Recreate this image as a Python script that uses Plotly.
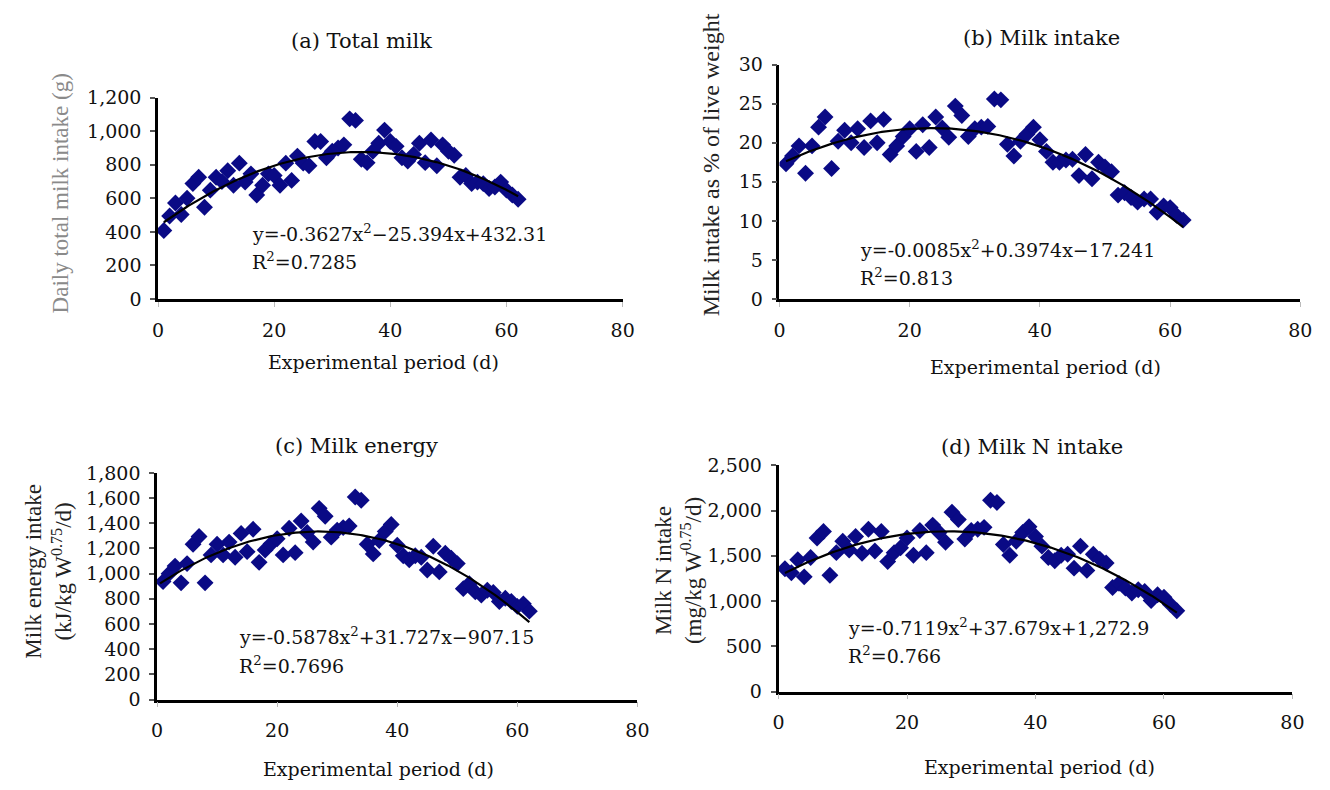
import numpy as np
import plotly.graph_objects as go

# ---------------- data ----------------
days = list(range(1, 63))

total_milk = [408, 495, 572, 504, 601, 688, 726, 547, 649, 726,
              700, 765, 678, 810, 697, 746, 620, 678, 746, 736,
              678, 810, 707, 852, 810, 794, 939, 939, 842, 881,
              900, 919, 1074, 1065, 833, 813, 881, 929, 1007, 939,
              910, 842, 823, 862, 929, 813, 948, 794, 919, 881,
              857, 726, 736, 688, 697, 688, 659, 668, 697, 649,
              620, 595]

milk_pct = [17.3, 18.3, 19.6, 16.1, 19.6, 22.0, 23.3, 16.7, 20.2, 21.6,
            20.0, 21.8, 19.4, 22.8, 20.0, 23.0, 18.5, 19.6, 20.8, 21.8,
            18.9, 22.3, 19.4, 23.3, 21.9, 20.7, 24.7, 23.5, 20.8, 21.8,
            22.0, 22.1, 25.6, 25.5, 19.8, 18.3, 20.2, 21.1, 22.0, 20.4,
            18.9, 17.5, 17.5, 17.8, 17.9, 15.8, 18.5, 15.4, 17.5, 16.9,
            16.3, 13.3, 13.6, 13.0, 12.4, 12.8, 12.8, 11.1, 11.9, 11.7,
            10.7, 10.1]

milk_energy = [937, 1000, 1060, 927, 1080, 1234, 1295, 927, 1149, 1234,
               1149, 1251, 1131, 1320, 1175, 1353, 1090, 1188, 1238, 1277,
               1149, 1361, 1167, 1418, 1328, 1251, 1519, 1456, 1290, 1346,
               1366, 1379, 1609, 1583, 1234, 1157, 1264, 1336, 1391, 1226,
               1142, 1111, 1142, 1131, 1029, 1218, 1014, 1162, 1123, 1080,
               881, 920, 855, 830, 868, 851, 779, 805, 779, 740,
               760, 702]

milk_n = [1357, 1314, 1457, 1268, 1482, 1696, 1768, 1286, 1535, 1661,
          1564, 1714, 1529, 1793, 1554, 1768, 1436, 1535, 1589, 1696,
          1507, 1779, 1535, 1839, 1757, 1650, 1982, 1900, 1686, 1779,
          1793, 1814, 2114, 2089, 1625, 1507, 1661, 1757, 1821, 1714,
          1607, 1482, 1446, 1507, 1518, 1364, 1607, 1339, 1518, 1464,
          1421, 1150, 1196, 1143, 1089, 1125, 1107, 1007, 1071, 1043,
          964, 893]

# quadratic trend coefficients (a2, a1, a0)
coef_a = [-0.3627, 25.394, 432.31]
coef_b = [-0.0085, 0.3974, 17.241]
coef_c = [-0.5878, 31.727, 907.15]
coef_d = [-0.7119, 37.679, 1272.9]

titles = ["(a) Total milk", "(b) Milk intake", "(c) Milk energy", "(d) Milk N intake"]
eq_texts = [
    ("y=-0.3627x<sup>2</sup>\u221225.394x+432.31", "R<sup>2</sup>=0.7285"),
    ("y=-0.0085x<sup>2</sup>+0.3974x\u221217.241", "R<sup>2</sup>=0.813"),
    ("y=-0.5878x<sup>2</sup>+31.727x\u2212907.15", "R<sup>2</sup>=0.7696"),
    ("y=-0.7119x<sup>2</sup>+37.679x+1,272.9", "R<sup>2</sup>=0.766"),
]
ytitles = [
    "Daily total milk intake (g)",
    "Milk intake as % of live weight",
    "Milk energy intake<br>(kJ/kg W<sup>0.75</sup>/d)",
    "Milk N intake<br>(mg/kg W<sup>0.75</sup>/d)",
]
xtitle = "Experimental period (d)"

# ---------------- layout geometry (pixels, page coordinates) ----------------
W, H = 1330, 790
OFF = 8                       # default page body margin offsets the figure
HFONT = "DejaVu Serif"        # horizontal texts (wide serif look)
VFONT = "Liberation Serif"    # rotated axis titles
NAVY = "#0a0a85"


def px(xp):
    return (xp - OFF) / W


def py(yp):
    return 1 - (yp - OFF) / H


panels = [
    dict(series=total_milk, coef=coef_a, x0=154, x1=625, ytop=89, ybot=296, ymax=1200, dtick=200,
         trend=(1, 62), title_xy=(360, 31), eq_xy=(247, 228, 257), xt_xy=(383, 361),
         yt_xy=(55, 187), yt_color="#8a8a8a", yt_size=23),
    dict(series=milk_pct, coef=coef_b, x0=784, x1=1312, ytop=55, ybot=296, ymax=30, dtick=5,
         trend=(1, 62), title_xy=(1050, 28), eq_xy=(864, 245, 273), xt_xy=(1054, 366),
         yt_xy=(714, 158), yt_color="#222222", yt_size=24),
    dict(series=milk_energy, coef=coef_c, x0=153, x1=640, ytop=475, ybot=708, ymax=1800, dtick=200,
         trend=(0.5, 62), title_xy=(355, 447), eq_xy=(234, 643, 672), xt_xy=(378, 779),
         yt_xy=(43, 576), yt_color="#222222", yt_size=23),
    dict(series=milk_n, coef=coef_d, x0=783, x1=1304, ytop=467, ybot=700, ymax=2500, dtick=500,
         trend=(1, 62), title_xy=(1040, 448), eq_xy=(851, 633, 662), xt_xy=(1048, 777),
         yt_xy=(681, 575), yt_color="#222222", yt_size=23),
]

fig = go.Figure()
annotations = []

for i, p in enumerate(panels):
    n = i + 1
    xa = "x" if n == 1 else f"x{n}"
    ya = "y" if n == 1 else f"y{n}"
    fig.add_trace(go.Scatter(
        x=days[:len(p["series"])], y=p["series"], mode="markers",
        marker=dict(symbol="diamond", size=13, color=NAVY, line=dict(width=0)),
        xaxis=xa, yaxis=ya, showlegend=False, hoverinfo="x+y"))
    a2, a1, a0 = p["coef"]
    tx = np.linspace(p["trend"][0], p["trend"][1], 200)
    ty = a2 * tx ** 2 + a1 * tx + a0
    fig.add_trace(go.Scatter(
        x=tx, y=ty, mode="lines", line=dict(color="black", width=2.2),
        xaxis=xa, yaxis=ya, showlegend=False, hoverinfo="skip"))

    xkey = "xaxis" if n == 1 else f"xaxis{n}"
    ykey = "yaxis" if n == 1 else f"yaxis{n}"
    fig.update_layout(**{
        xkey: dict(domain=[px(p["x0"]), px(p["x1"])], anchor=ya, range=[0, 80],
                   dtick=20, tick0=0, showgrid=False, zeroline=False,
                   showline=True, linecolor="black", linewidth=2.5,
                   ticks="outside", ticklen=5, tickcolor="#bbbbbb", tickwidth=1,
                   ticklabelstandoff=7,
                   tickfont=dict(family=HFONT, size=19, color="#111111"), fixedrange=True),
        ykey: dict(domain=[py(p["ybot"]), py(p["ytop"])], anchor=xa,
                   range=[0, p["ymax"]], dtick=p["dtick"], tick0=0, tickformat=",",
                   showgrid=False, zeroline=False, showline=True, linecolor="black",
                   linewidth=2.5, ticks="outside", ticklen=5, tickcolor="#555555",
                   tickwidth=1.5, ticklabelstandoff=5,
                   tickfont=dict(family=HFONT, size=19, color="#111111"), fixedrange=True),
    })

    # subplot title
    annotations.append(dict(text=titles[i], x=px(p["title_xy"][0]), y=py(p["title_xy"][1]),
                            xref="paper", yref="paper", showarrow=False,
                            xanchor="center", yanchor="middle",
                            font=dict(family=HFONT, size=21, color="#111111")))
    # equation + R^2
    ex, ey1, ey2 = p["eq_xy"]
    for txt, yy in zip(eq_texts[i], (ey1, ey2)):
        annotations.append(dict(text=txt, x=px(ex), y=py(yy), xref="paper", yref="paper",
                                showarrow=False, xanchor="left", yanchor="middle",
                                font=dict(family=HFONT, size=19, color="#111111")))
    # x title
    annotations.append(dict(text=xtitle, x=px(p["xt_xy"][0]), y=py(p["xt_xy"][1]),
                            xref="paper", yref="paper", showarrow=False,
                            xanchor="center", yanchor="middle",
                            font=dict(family=HFONT, size=19, color="#111111")))
    # y title
    annotations.append(dict(text=ytitles[i], x=px(p["yt_xy"][0]), y=py(p["yt_xy"][1]),
                            xref="paper", yref="paper", showarrow=False, textangle=-90,
                            xanchor="center", yanchor="middle",
                            font=dict(family=VFONT, size=p["yt_size"], color=p["yt_color"])))

fig.update_layout(
    width=W, height=H, margin=dict(l=0, r=0, t=0, b=0),
    paper_bgcolor="white", plot_bgcolor="white",
    annotations=annotations, showlegend=False,
    font=dict(family=HFONT),
)

fig.write_html("out.html", config={"displayModeBar": False})
